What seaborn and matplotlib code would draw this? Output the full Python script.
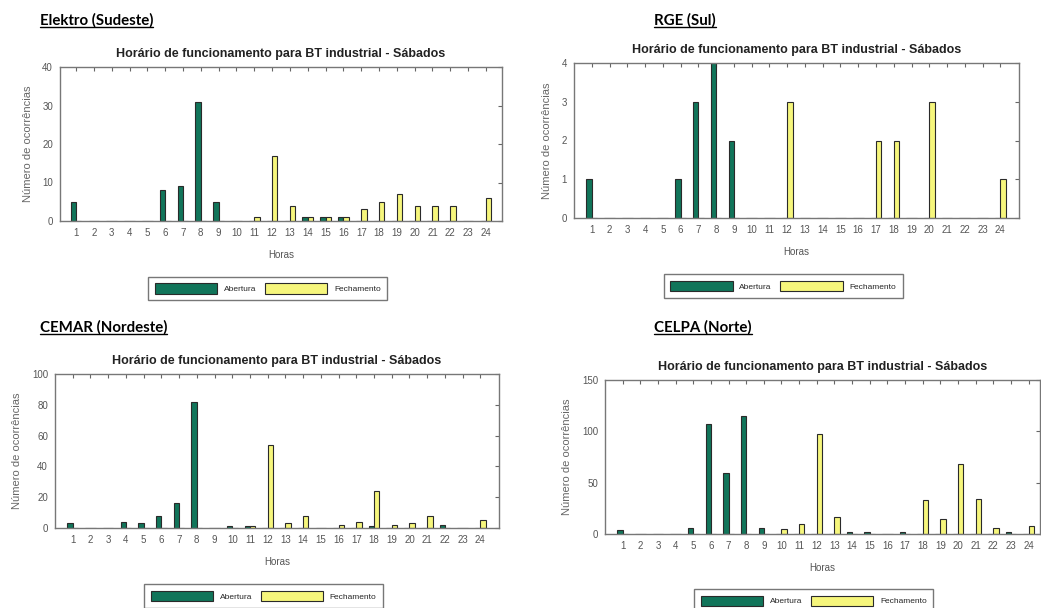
import numpy as np
import pandas as pd
import matplotlib
matplotlib.use("Agg")
import matplotlib.pyplot as plt
import seaborn as sns
from matplotlib.lines import Line2D

# ---------------- data ----------------
hours = list(range(1, 25))
series_names = ["Abertura", "Fechamento"]

elektro_abertura   = [5, 0, 0, 0, 0, 8, 9, 31, 5, 0, 0, 0, 0, 1, 1, 1, 0, 0, 0, 0, 0, 0, 0, 0]
elektro_fechamento = [0, 0, 0, 0, 0, 0, 0, 0, 0, 0, 1, 17, 4, 1, 1, 1, 3, 5, 7, 4, 4, 4, 0, 6]

rge_abertura   = [1, 0, 0, 0, 0, 1, 3, 4, 2, 0, 0, 0, 0, 0, 0, 0, 0, 0, 0, 0, 0, 0, 0, 0]
rge_fechamento = [0, 0, 0, 0, 0, 0, 0, 0, 0, 0, 0, 3, 0, 0, 0, 0, 2, 2, 0, 3, 0, 0, 0, 1]

cemar_abertura   = [3, 0, 0, 4, 3, 8, 16, 82, 0, 1, 1, 0, 0, 0, 0, 0, 0, 1, 0, 0, 0, 2, 0, 0]
cemar_fechamento = [0, 0, 0, 0, 0, 0, 0, 0, 0, 0, 1, 54, 3, 8, 0, 2, 4, 24, 2, 3, 8, 0, 0, 5]

celpa_abertura   = [4, 0, 0, 0, 6, 107, 59, 115, 6, 0, 0, 0, 0, 2, 2, 0, 2, 0, 0, 0, 0, 0, 2, 0]
celpa_fechamento = [0, 0, 0, 0, 0, 0, 0, 0, 0, 5, 10, 97, 17, 0, 0, 0, 0, 33, 15, 68, 34, 6, 0, 8]

panel_names = ["Elektro (Sudeste)", "RGE (Sul)", "CEMAR (Nordeste)", "CELPA (Norte)"]
chart_title = "Horário de funcionamento para BT industrial - Sábados"
x_label = "Horas"
y_label = "Número de ocorrências"
y_ticks = [[0, 10, 20, 30, 40], [0, 1, 2, 3, 4], [0, 20, 40, 60, 80, 100], [0, 50, 100, 150]]

panels = [
    (elektro_abertura, elektro_fechamento),
    (rge_abertura, rge_fechamento),
    (cemar_abertura, cemar_fechamento),
    (celpa_abertura, celpa_fechamento),
]

# ---------------- style ----------------
sns.set_style("white")
plt.rcParams.update({
    "font.family": ["Liberation Sans", "DejaVu Sans"],
    "xtick.direction": "in", "ytick.direction": "in",
    "xtick.top": True, "ytick.right": True,
    "xtick.major.size": 3, "ytick.major.size": 3,
    "xtick.color": "#666666", "ytick.color": "#666666",
    "xtick.labelcolor": "#555555", "ytick.labelcolor": "#555555",
    "axes.edgecolor": "#777777", "axes.linewidth": 1.0,
    "legend.fancybox": False, "legend.edgecolor": "#555555",
})

W, H = 1041, 608
fig = plt.figure(figsize=(W / 100, H / 100), dpi=100)

# axes boxes in pixels: left, right, top, bottom
boxes = [(60, 502, 67, 221), (574, 1019, 63, 218), (55, 499, 374, 528), (605, 1040, 380, 534)]
xlims = [(0.1, 24.9), (0.0, 25.05), (0.0, 25.05), (0.0, 24.65)]
legend_anchor = [(0.47, -0.335), (0.47, -0.335), (0.47, -0.338), (0.48, -0.33)]
heading_pos = [(40, 25), (654, 25), (40, 332), (654, 332)]

palette = {"Abertura": "#11755a", "Fechamento": "#f6f67c"}

for i, (ab, fe) in enumerate(panels):
    l, r, t, b = boxes[i]
    ax = fig.add_axes([l / W, 1 - b / H, (r - l) / W, (b - t) / H])
    df = pd.DataFrame({
        "Hora": hours * 2,
        "Valor": list(ab) + list(fe),
        "Serie": [series_names[0]] * 24 + [series_names[1]] * 24,
    })
    sns.barplot(data=df, x="Hora", y="Valor", hue="Serie", hue_order=series_names,
                native_scale=True, width=0.6, palette=palette, saturation=1,
                errorbar=None, edgecolor="#2a2a2a", linewidth=0.8, ax=ax)
    ax.set_xlim(*xlims[i])
    ax.set_ylim(y_ticks[i][0], y_ticks[i][-1])
    ax.set_xticks(hours)
    ax.set_xticklabels([str(h) for h in hours])
    ax.set_yticks(y_ticks[i])
    ax.tick_params(labelsize=7, pad=5)
    ax.set_xlabel(x_label, fontsize=7, color="#555555", labelpad=9)
    ax.set_ylabel(y_label, fontsize=8, color="#666666", labelpad=7)
    ax.set_title(chart_title, fontsize=9, fontweight="bold", color="#222222", pad=7)
    sns.move_legend(ax, "upper center", bbox_to_anchor=legend_anchor[i], ncol=2,
                    title=None, frameon=True, fontsize=6, handlelength=7.5,
                    handleheight=1.5, columnspacing=1.0, borderpad=0.8,
                    handletextpad=0.8)

# headings (bold, underlined)
heads = []
for name, (x, y) in zip(panel_names, heading_pos):
    heads.append(fig.text(x / W, 1 - y / H, name, fontsize=10.8, fontweight="bold",
                          family=["Lato", "DejaVu Sans"], ha="left", va="baseline",
                          color="black"))
fig.canvas.draw()
renderer = fig.canvas.get_renderer()
for txt, (x, y) in zip(heads, heading_pos):
    bb = txt.get_window_extent(renderer)
    yy = 1 - (y + 2) / H
    fig.add_artist(Line2D([bb.x0 / W, bb.x1 / W], [yy, yy], color="black", lw=1.0,
                          transform=fig.transFigure))

fig.savefig("out.png", dpi=100, facecolor="white")
